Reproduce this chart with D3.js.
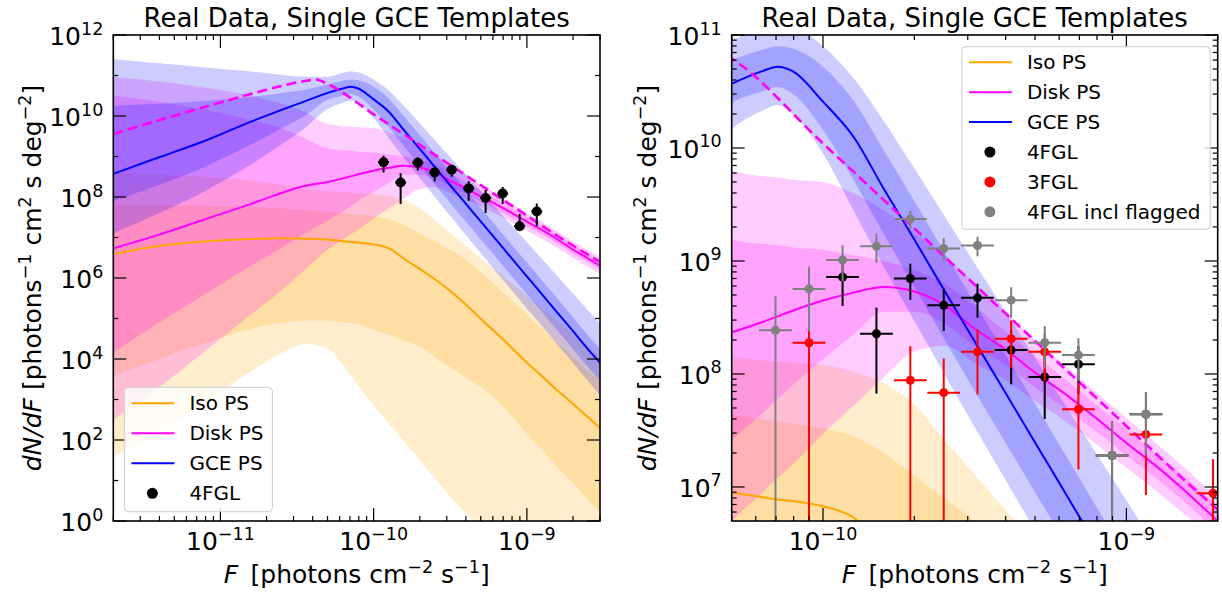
<!DOCTYPE html>
<html>
<head>
<meta charset="utf-8">
<script src="https://cdn.jsdelivr.net/npm/d3@7"></script>
<style>
body { margin: 0; background: #fff; }
text { font-family: "DejaVu Sans", sans-serif; fill: #000; }
</style>
</head>
<body>
<script>
// flux grid shared by all model curves (photons cm^-2 s^-1)
var fluxGrid = [1.995e-12, 3.98e-12, 7.94e-12, 1.585e-11, 2.51e-11, 3.55e-11, 5.01e-11, 6.31e-11, 7.08e-11,
  7.94e-11, 1.0e-10, 1.26e-10, 1.585e-10, 2.0e-10, 2.51e-10, 3.16e-10, 3.98e-10, 5.01e-10, 6.31e-10,
  7.94e-10, 1.0e-9, 1.26e-9, 1.585e-9, 2.0e-9, 2.51e-9, 3.02e-9];

// log10 dN/dF : median, 68% band, 95% band
var isoMed  = [6.59, 6.79, 6.90, 6.96, 6.98, 6.97, 6.95, 6.91, 6.89, 6.875, 6.83, 6.73, 6.47, 6.22, 5.97, 5.68, 5.35, 4.99, 4.64, 4.28, 3.91, 3.57, 3.22, 2.89, 2.56, 2.29];
var isoHi68 = [7.8, 7.8, 7.78, 7.75, 7.72, 7.68, 7.64, 7.6, 7.58, 7.56, 7.52, 7.45, 7.3, 7.1, 6.9, 6.7, 6.45, 6.15, 5.8, 5.45, 5.1, 4.75, 4.4, 4.05, 3.7, 3.45];
var isoLo68 = [3.56, 4.0, 4.4, 4.75, 4.9, 4.95, 4.95, 4.9, 4.88, 4.85, 4.72, 4.6, 4.45, 4.3, 4.05, 3.8, 3.55, 3.3, 3.0, 2.6, 2.15, 1.75, 1.33, 0.93, 0.52, 0.2];
var isoHi95 = [8.6, 8.55, 8.5, 8.4, 8.3, 8.2, 8.15, 8.12, 8.11, 8.1, 8.08, 8.02, 7.92, 7.73, 7.42, 7.11, 6.8, 6.49, 6.18, 5.87, 5.56, 5.25, 4.94, 4.63, 4.32, 4.07];
var isoLo95 = [1.59, 2.17, 2.9, 3.7, 4.15, 4.37, 4.26, 3.85, 3.6, 3.35, 2.85, 2.4, 1.95, 1.5, 1.05, 0.6, 0.2, -0.15, -0.55, -0.95, -1.35, -1.75, -2.15, -2.55, -2.95, -3.3];

var diskMed  = [6.73, 7.07, 7.45, 7.83, 8.1, 8.27, 8.37, 8.46, 8.51, 8.56, 8.65, 8.72, 8.77, 8.73, 8.61, 8.40, 8.22, 8.01, 7.82, 7.61, 7.39, 7.18, 6.95, 6.7, 6.48, 6.3];
var diskHi68 = [10.5, 10.35, 10.15, 9.9, 9.7, 9.45, 9.19, 9.15, 9.14, 9.12, 9.1, 9.05, 9.0, 8.92, 8.8, 8.6, 8.38, 8.16, 7.95, 7.73, 7.51, 7.29, 7.07, 6.83, 6.6, 6.42];
var diskLo68 = [4.15, 4.9, 5.6, 6.3, 6.75, 7.1, 7.42, 7.65, 7.78, 7.9, 8.13, 8.35, 8.55, 8.55, 8.45, 8.25, 8.08, 7.88, 7.69, 7.49, 7.28, 7.07, 6.85, 6.6, 6.38, 6.2];
var diskHi95 = [10.96, 10.85, 10.7, 10.5, 10.3, 10.1, 9.8, 9.75, 9.74, 9.72, 9.7, 9.6, 9.45, 9.25, 9.05, 8.8, 8.55, 8.3, 8.07, 7.84, 7.61, 7.38, 7.15, 6.9, 6.68, 6.5];
var diskLo95 = [2.5, 3.3, 4.2, 5.1, 5.7, 6.2, 6.7, 6.95, 7.08, 7.2, 7.47, 7.72, 7.97, 8.2, 8.25, 8.1, 7.95, 7.76, 7.58, 7.38, 7.17, 6.96, 6.74, 6.5, 6.27, 6.1];

var gceMed  = [8.57, 8.98, 9.39, 9.86, 10.15, 10.36, 10.57, 10.68, 10.72, 10.68, 10.41, 10.10, 9.64, 9.19, 8.74, 8.29, 7.84, 7.39, 6.94, 6.49, 6.04, 5.59, 5.14, 4.69, 4.24, 3.9];
var gceHi68 = [10.25, 10.3, 10.37, 10.47, 10.57, 10.65, 10.78, 10.87, 10.9, 10.88, 10.72, 10.42, 9.98, 9.53, 9.08, 8.63, 8.18, 7.73, 7.28, 6.83, 6.38, 5.93, 5.48, 5.03, 4.58, 4.24];
var gceLo68 = [7.9, 8.3, 8.75, 9.3, 9.7, 10.0, 10.4, 10.5, 10.54, 10.48, 10.16, 9.72, 9.24, 8.77, 8.31, 7.85, 7.4, 6.95, 6.5, 6.05, 5.6, 5.15, 4.7, 4.25, 3.8, 3.45];
var gceHi95 = [11.4, 11.3, 11.2, 11.1, 11.02, 10.97, 10.97, 11.07, 11.1, 11.08, 10.9, 10.62, 10.24, 9.82, 9.4, 8.98, 8.56, 8.14, 7.72, 7.3, 6.88, 6.46, 6.04, 5.62, 5.2, 4.87];
var gceLo95 = [7.1, 7.6, 8.15, 8.8, 9.3, 9.7, 10.17, 10.33, 10.38, 10.3, 9.95, 9.45, 8.95, 8.47, 8.0, 7.53, 7.07, 6.61, 6.15, 5.7, 5.25, 4.8, 4.35, 3.9, 3.45, 3.1];

// dashed magenta curve
var dashF   = [2e-12, 4e-12, 8e-12, 1.6e-11, 2.5e-11, 3.5e-11, 4.2e-11, 5.0e-11, 1e-10, 3.5e-10, 1e-9, 1.6e-9, 3e-9];
var dashLog = [9.56, 9.9, 10.23, 10.55, 10.74, 10.86, 10.9, 10.79, 10.04, 8.68, 7.54, 7.03, 6.4];

// catalogue histograms: bin centres and dN/dF with 1-sigma errors
var binF = [6.97e-11, 8.99e-11, 1.16e-10, 1.50e-10, 1.94e-10, 2.50e-10, 3.23e-10, 4.17e-10, 5.38e-10,
  6.95e-10, 8.97e-10, 1.16e-9, 1.49e-9, 1.93e-9];
var fgl4Bin = [2, 3, 4, 5, 6, 7, 8, 9, 10, 11];
var fgl4Val = [7.2e8, 2.27e8, 7.0e8, 4.05e8, 4.72e8, 1.63e8, 9.4e7, 1.22e8, 1.9e7, 4.4e7];
var fgl4Err = [3.2e8, 1.6e8, 2.47e8, 1.65e8, 1.57e8, 8.2e7, 5.4e7, 5.5e7, 1.9e7, 2.5e7];
var fgl3Bin = [1, 4, 5, 6, 7, 8, 9, 11, 13];
var fgl3Val = [1.89e8, 8.8e7, 6.84e7, 1.57e8, 2.05e8, 1.57e8, 4.87e7, 2.92e7, 8.8e6];
var fgl3Err = [1.89e8, 8.8e7, 6.84e7, 9.1e7, 9.2e7, 7.0e7, 3.44e7, 2.07e7, 8.8e6];
var flagBin = [0, 1, 2, 3, 4, 5, 6, 7, 8, 9, 10, 11];
var flagVal = [2.44e8, 5.66e8, 1.02e9, 1.35e9, 2.35e9, 1.29e9, 1.37e9, 4.5e8, 1.89e8, 1.47e8, 1.9e7, 4.4e7];
var flagErr = [2.44e8, 3.27e8, 3.6e8, 3.9e8, 4.4e8, 3.0e8, 2.7e8, 1.36e8, 7.7e7, 6.0e7, 1.9e7, 2.5e7];

var titleText = "Real Data, Single GCE Templates";

function rows(lo, hi) {
  return fluxGrid.map(function(f, i) { return {f: f, lo: Math.pow(10, lo[i]), hi: Math.pow(10, hi[i])}; });
}
function curve(vals) {
  return fluxGrid.map(function(f, i) { return {f: f, v: Math.pow(10, vals[i])}; });
}
function points(bins, vals, errs) {
  return bins.map(function(b, i) { return {f: binF[b], v: vals[i], e: errs[i]}; });
}

var comps = [
  {color: "#ffa500", med: isoMed, lo68: isoLo68, hi68: isoHi68, lo95: isoLo95, hi95: isoHi95},
  {color: "#ff00ff", med: diskMed, lo68: diskLo68, hi68: diskHi68, lo95: diskLo95, hi95: diskHi95},
  {color: "#0000ff", med: gceMed, lo68: gceLo68, hi68: gceHi68, lo95: gceLo95, hi95: gceHi95}
];

var svg = d3.select("body").append("svg").attr("width", 1222).attr("height", 600);

function sup(sel, exp, size) {
  sel.append("tspan").text("10");
  sel.append("tspan").attr("dy", -0.42 * size).style("font-size", (0.7 * size) + "px")
    .text(exp < 0 ? "\u2212" + (-exp) : String(exp));
}

function drawPanel(p) {
  var g = svg.append("g");
  var x = d3.scaleLog().domain(p.xDomain).range([p.left, p.right]);
  var y = d3.scaleLog().domain(p.yDomain).range([p.bottom, p.top]);

  var clipId = "clip" + p.id;
  g.append("clipPath").attr("id", clipId).append("rect")
    .attr("x", p.left).attr("y", p.top).attr("width", p.right - p.left).attr("height", p.bottom - p.top);
  var plot = g.append("g").attr("clip-path", "url(#" + clipId + ")");

  var area = d3.area().x(function(d) { return x(d.f); })
    .y0(function(d) { return y(d.lo); }).y1(function(d) { return y(d.hi); })
    .curve(d3.curveMonotoneX);
  var line = d3.line().x(function(d) { return x(d.f); }).y(function(d) { return y(d.v); })
    .curve(d3.curveMonotoneX);

  comps.forEach(function(c) {
    plot.append("path").datum(rows(c.lo95, c.hi95)).attr("d", area)
      .attr("fill", c.color).attr("fill-opacity", 0.2);
    plot.append("path").datum(rows(c.lo68, c.hi68)).attr("d", area)
      .attr("fill", c.color).attr("fill-opacity", 0.2);
  });
  comps.forEach(function(c) {
    plot.append("path").datum(curve(c.med)).attr("d", line)
      .attr("fill", "none").attr("stroke", c.color).attr("stroke-width", 2);
  });
  plot.append("path")
    .datum(dashF.map(function(f, i) { return {f: f, v: Math.pow(10, dashLog[i])}; }))
    .attr("d", line).attr("fill", "none").attr("stroke", "#ff00ff")
    .attr("stroke-width", 2.6).attr("stroke-dasharray", "10,5");

  var yMin = p.yDomain[0] * 0.01;
  p.sets.forEach(function(s) {
    var pts = points(s.bin, s.val, s.err);
    var gg = plot.append("g");
    pts.forEach(function(d) {
      var lo = d.v - d.e > 0 ? d.v - d.e : (p.maskZero ? d.v : yMin);
      gg.append("line").attr("x1", x(d.f)).attr("x2", x(d.f))
        .attr("y1", y(lo)).attr("y2", y(d.v + d.e))
        .attr("stroke", s.color).attr("stroke-width", 2);
      gg.append("line")
        .attr("x1", x(d.f / Math.pow(10, p.xHalf))).attr("x2", x(d.f * Math.pow(10, p.xHalf)))
        .attr("y1", y(d.v)).attr("y2", y(d.v))
        .attr("stroke", s.color).attr("stroke-width", 2);
      gg.append("circle").attr("cx", x(d.f)).attr("cy", y(d.v)).attr("r", p.dot).attr("fill", s.color);
    });
  });

  // frame
  g.append("rect").attr("x", p.left).attr("y", p.top)
    .attr("width", p.right - p.left).attr("height", p.bottom - p.top)
    .attr("fill", "none").attr("stroke", "#000").attr("stroke-width", 1.6);

  var ticks = g.append("g").attr("stroke", "#000").attr("stroke-width", 1.2);
  var fs = 25;
  // x ticks
  for (var e = -13; e <= -8; e++) {
    for (var m = 1; m <= 9; m++) {
      var v = m * Math.pow(10, e);
      if (v < p.xDomain[0] * 0.999 || v > p.xDomain[1] * 1.001) continue;
      var len = m === 1 ? 13 : 5, xx = x(v);
      ticks.append("line").attr("x1", xx).attr("x2", xx).attr("y1", p.bottom).attr("y2", p.bottom - len);
      ticks.append("line").attr("x1", xx).attr("x2", xx).attr("y1", p.top).attr("y2", p.top + len);
      if (m === 1) {
        sup(g.append("text").attr("x", xx).attr("y", p.bottom + 29).attr("text-anchor", "middle")
          .style("font-size", fs + "px"), e, fs);
      }
    }
  }
  // y ticks
  p.yMajor.forEach(function(e) {
    var yy = y(Math.pow(10, e));
    ticks.append("line").attr("x1", p.left).attr("x2", p.left + 13).attr("y1", yy).attr("y2", yy);
    ticks.append("line").attr("x1", p.right).attr("x2", p.right - 13).attr("y1", yy).attr("y2", yy);
    sup(g.append("text").attr("x", p.left - 10).attr("y", yy + 10).attr("text-anchor", "end")
      .style("font-size", fs + "px"), e, fs);
  });
  p.yMinor.forEach(function(v) {
    var yy = y(v);
    ticks.append("line").attr("x1", p.left).attr("x2", p.left + 5).attr("y1", yy).attr("y2", yy);
    ticks.append("line").attr("x1", p.right).attr("x2", p.right - 5).attr("y1", yy).attr("y2", yy);
  });

  // title and axis labels
  var cx = (p.left + p.right) / 2;
  g.append("text").attr("x", cx).attr("y", 27).attr("text-anchor", "middle")
    .style("font-size", "26px").text(titleText);

  var xl = g.append("text").attr("x", cx).attr("y", 583).attr("text-anchor", "middle").style("font-size", "25px");
  xl.append("tspan").style("font-style", "italic").text("F");
  xl.append("tspan").text("\u2002[photons cm");
  xl.append("tspan").attr("dy", -10).style("font-size", "17.5px").text("\u22122");
  xl.append("tspan").attr("dy", 10).text(" s");
  xl.append("tspan").attr("dy", -10).style("font-size", "17.5px").text("\u22121");
  xl.append("tspan").attr("dy", 10).text("]");

  var yl = g.append("text").attr("transform", "translate(" + p.ylabX + "," + ((p.top + p.bottom) / 2) + ") rotate(-90)")
    .attr("text-anchor", "middle").style("font-size", "25px");
  yl.append("tspan").style("font-style", "italic").text("dN/dF");
  yl.append("tspan").text(" [photons");
  yl.append("tspan").attr("dy", -10).style("font-size", "17.5px").text("\u22121");
  yl.append("tspan").attr("dy", 10).text(" cm");
  yl.append("tspan").attr("dy", -10).style("font-size", "17.5px").text("2");
  yl.append("tspan").attr("dy", 10).text(" s deg");
  yl.append("tspan").attr("dy", -10).style("font-size", "17.5px").text("\u22122");
  yl.append("tspan").attr("dy", 10).text("]");

  // legend
  var L = p.legend;
  var lg = g.append("g");
  lg.append("rect").attr("x", L.x).attr("y", L.y).attr("width", L.w).attr("height", L.h)
    .attr("rx", 4).attr("fill", "#fff").attr("fill-opacity", 0.8)
    .attr("stroke", "#cccccc").attr("stroke-width", 1);
  L.items.forEach(function(it, i) {
    var ry = L.y + L.first + i * L.step;
    if (it.type === "line") {
      lg.append("line").attr("x1", L.x + 7).attr("x2", L.x + 50).attr("y1", ry).attr("y2", ry)
        .attr("stroke", it.color).attr("stroke-width", 2);
    } else {
      lg.append("circle").attr("cx", L.x + 28).attr("cy", ry).attr("r", 5.5).attr("fill", it.color);
    }
    lg.append("text").attr("x", L.x + 65).attr("y", ry + 7).style("font-size", "20px").text(it.label);
  });
}

var legendLines = [
  {type: "line", color: "#ffa500", label: "Iso PS"},
  {type: "line", color: "#ff00ff", label: "Disk PS"},
  {type: "line", color: "#0000ff", label: "GCE PS"}
];

drawPanel({
  id: "L", left: 113.3, right: 600, top: 35, bottom: 521,
  xDomain: [2e-12, 3e-9], yDomain: [1, 1e12],
  yMajor: [0, 2, 4, 6, 8, 10, 12], yMinor: [1e1, 1e3, 1e5, 1e7, 1e9, 1e11],
  ylabX: 41, xHalf: 0.036, dot: 5, maskZero: true,
  sets: [{bin: fgl4Bin, val: fgl4Val, err: fgl4Err, color: "#000000"}],
  legend: {x: 124.4, y: 387.3, w: 148, h: 124.4, first: 16, step: 30,
    items: legendLines.concat([{type: "dot", color: "#000000", label: "4FGL"}])}
});

drawPanel({
  id: "R", left: 731.7, right: 1217.7, top: 35, bottom: 521,
  xDomain: [5e-11, 2e-9], yDomain: [5e6, 1e11],
  yMajor: [7, 8, 9, 10, 11],
  yMinor: [6e6, 7e6, 8e6, 9e6, 2e7, 3e7, 4e7, 5e7, 6e7, 7e7, 8e7, 9e7, 2e8, 3e8, 4e8, 5e8, 6e8, 7e8, 8e8, 9e8,
    2e9, 3e9, 4e9, 5e9, 6e9, 7e9, 8e9, 9e9, 2e10, 3e10, 4e10, 5e10, 6e10, 7e10, 8e10, 9e10],
  ylabX: 656, xHalf: 0.054, dot: 4.5, maskZero: false,
  sets: [
    {bin: fgl4Bin, val: fgl4Val, err: fgl4Err, color: "#000000"},
    {bin: fgl3Bin, val: fgl3Val, err: fgl3Err, color: "#ff0000"},
    {bin: flagBin, val: flagVal, err: flagErr, color: "#808080"}
  ],
  legend: {x: 961.9, y: 46.7, w: 248.3, h: 182.6, first: 15.6, step: 29.9,
    items: legendLines.concat([
      {type: "dot", color: "#000000", label: "4FGL"},
      {type: "dot", color: "#ff0000", label: "3FGL"},
      {type: "dot", color: "#808080", label: "4FGL incl flagged"}
    ])}
});
</script>
</body>
</html>
